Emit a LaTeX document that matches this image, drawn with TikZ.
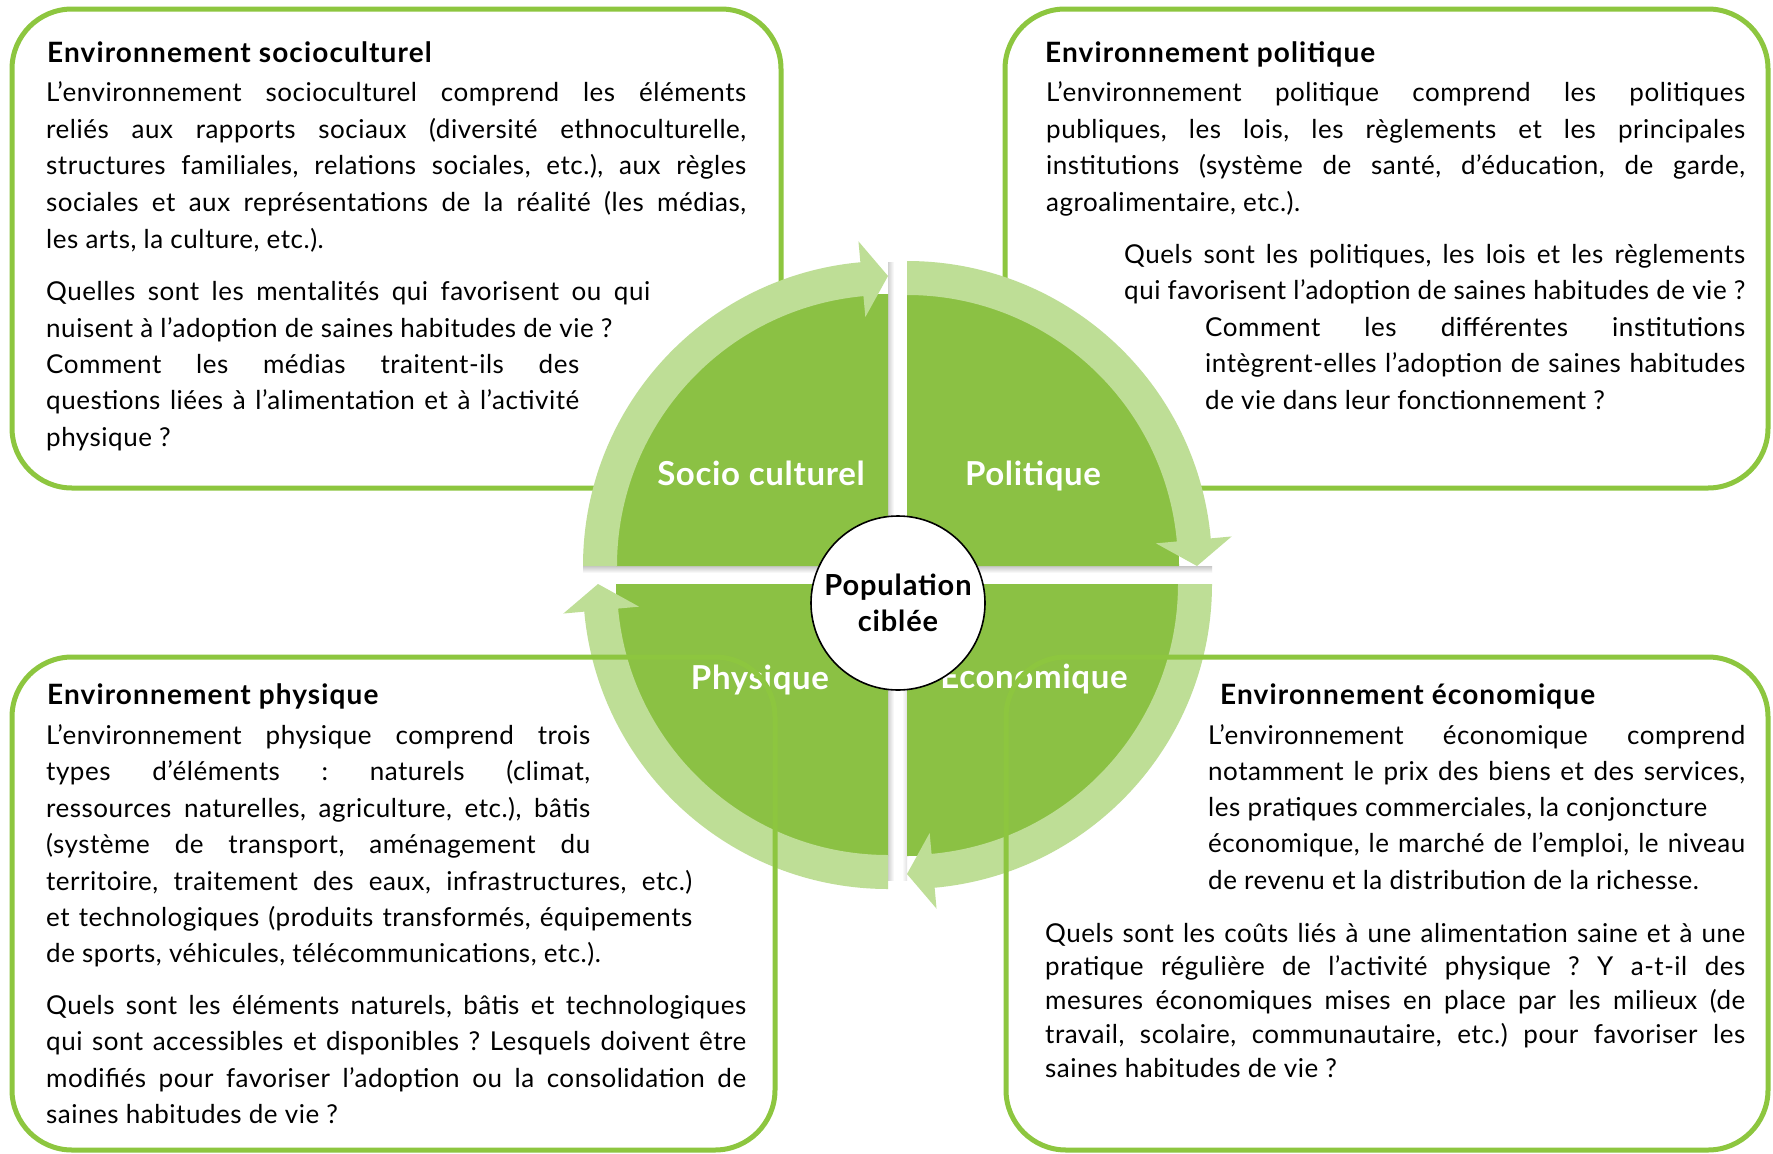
\documentclass[tikz,border=0pt]{standalone}
\usepackage{fontspec}
\setmainfont{Lato}
\frenchspacing
\definecolor{boxgreen}{RGB}{141,198,63}
\definecolor{quadgreen}{RGB}{139,193,68}
\definecolor{bandgreen}{RGB}{190,222,150}
\definecolor{hilite}{RGB}{214,245,140}
\tikzset{
  envbox/.style={draw=boxgreen, line width=5pt, rounded corners=60pt},
  envtitle/.style={anchor=base west, inner sep=0pt, font=\fontsize{28}{30}\selectfont\bfseries\addfontfeature{LetterSpace=4}},
  envline/.style={anchor=base west, inner sep=0pt, font=\fontsize{26}{30}\selectfont\addfontfeature{LetterSpace=2}},
  quadlabel/.style={anchor=base, inner sep=0pt, text=white, font=\fontsize{33}{36}\selectfont\bfseries\addfontfeature{LetterSpace=2}}
}
\newcommand\envpara[5]{%
  \foreach \w/\t [count=\i] in {#5}
    \node[envline] (#1\i) at (#2, {#3+#4*(\i-1)}) {\ifnum\w>0 \makebox[\w pt][s]{\t}\else\t\fi};
}
\newcommand\quadrant[2]{%
  \begin{scope}[shift={#1}, y=1pt]
  \fill[quadgreen] (0,0) -- (#2:272) arc[start angle=#2, end angle=#2+90, radius=272] -- cycle;
  \fill[bandgreen] ({#2+90}:305) arc[start angle=#2+90, end angle=#2+5.2, radius=305] -- ({#2+5.2}:326) -- (#2:290)
    -- ({#2+5.2}:250) -- ({#2+5.2}:271) arc[start angle=#2+5.2, end angle=#2+90, radius=271] -- cycle;
  \end{scope}}
\begin{document}
\begin{tikzpicture}[x=1pt, y=-1pt]
\fill[white] (0,0) rectangle (1773,1154);
\draw[envbox] (12,9) rectangle (781,488);
\draw[envbox] (1005,9) rectangle (1768,488);

\shade[top color=black!22, bottom color=white] (583,566) rectangle (1212,573);
\shade[left color=black!18, right color=white] (888,262) rectangle (894,566);
\shade[left color=black!18, right color=white] (888,584) rectangle (894,880);
\shade[left color=white, right color=black!12] (902,584) rectangle (907,880);

\shade[top color=hilite, bottom color=quadgreen] (616,584) rectangle (888,597);
\shade[top color=hilite, bottom color=quadgreen] (907,584) rectangle (1179,597);
\quadrant{(888,566)}{90}
\quadrant{(907,566)}{0}
\quadrant{(907,584)}{-90}
\quadrant{(888,584)}{180}

\node[quadlabel] (socio) at (761,485) {Socio culturel};
\node[quadlabel] (poli) at (1033,485) {Politique};
\node[quadlabel] (phys) at (760,689) {Physique};
\node[quadlabel] (eco) at (1034,688) {Économique};

\draw[envbox] (12,657) rectangle (775,1150);
\draw[envbox] (1006,657) rectangle (1768,1150);

\node[circle, draw=black, line width=1.6pt, fill=white, minimum size=174pt, inner sep=0pt, align=center,
  font=\fontsize{29}{36}\selectfont\bfseries\addfontfeature{LetterSpace=3}] (pop) at (898,603) {Population\\ciblée};

\node[envtitle] (tltitle) at (47,62) {Environnement socioculturel};
\envpara{tla}{46}{101.7}{36.6}{700/{L’environnement socioculturel comprend les éléments}, 700/{reliés aux rapports sociaux (diversité ethnoculturelle,}, 700/{structures familiales, relations sociales, etc.), aux règles}, 700/{sociales et aux représentations de la réalité (les médias,}, 0/{les arts, la culture, etc.).}}
\envpara{tlb}{46}{300.6}{36.4}{604/{Quelles sont les mentalités qui favorisent ou qui}, 0/{nuisent à l’adoption de saines habitudes de vie ?}, 533/{Comment les médias traitent-ils des}, 533/{questions liées à l’alimentation et à l’activité}, 0/{physique ?}}

\node[envtitle] (trtitle) at (1045,62) {Environnement politique};
\envpara{tra}{1046}{101.7}{36.6}{699/{L’environnement politique comprend les politiques}, 699/{publiques, les lois, les règlements et les principales}, 699/{institutions (système de santé, d’éducation, de garde,}, 0/{agroalimentaire, etc.).}}
\envpara{trb}{1124}{263}{36.5}{621/{Quels sont les politiques, les lois et les règlements}, 0/{qui favorisent l’adoption de saines habitudes de vie ?}}
\envpara{trc}{1205}{336}{36.5}{540/{Comment les différentes institutions}, 540/{intègrent-elles l’adoption de saines habitudes}, 0/{de vie dans leur fonctionnement ?}}

\node[envtitle] (bltitle) at (47,704) {Environnement physique};
\envpara{bla}{46}{744.5}{36.4}{544/{L’environnement physique comprend trois}, 544/{types d’éléments : naturels (climat,}, 544/{ressources naturelles, agriculture, etc.), bâtis}, 544/{(système de transport, aménagement du}, 646/{territoire, traitement des eaux, infrastructures, etc.)}, 646/{et technologiques (produits transformés, équipements}, 0/{de sports, véhicules, télécommunications, etc.).}}
\envpara{blb}{46}{1014.5}{36.3}{700/{Quels sont les éléments naturels, bâtis et technologiques}, 700/{qui sont accessibles et disponibles ? Lesquels doivent être}, 700/{modifiés pour favoriser l’adoption ou la consolidation de}, 0/{saines habitudes de vie ?}}

\node[envtitle] (brtitle) at (1220,704) {Environnement économique};
\envpara{bra}{1208}{744}{36.3}{537/{L’environnement économique comprend}, 537/{notamment le prix des biens et des services,}, 0/{les pratiques commerciales, la conjoncture}, 537/{économique, le marché de l’emploi, le niveau}, 0/{de revenu et la distribution de la richesse.}}
\envpara{brb}{1045}{942}{33.8}{700/{Quels sont les coûts liés à une alimentation saine et à une}, 700/{pratique régulière de l’activité physique ? Y a-t-il des}, 700/{mesures économiques mises en place par les milieux (de}, 700/{travail, scolaire, communautaire, etc.) pour favoriser les}, 0/{saines habitudes de vie ?}}
\end{tikzpicture}
\end{document}
